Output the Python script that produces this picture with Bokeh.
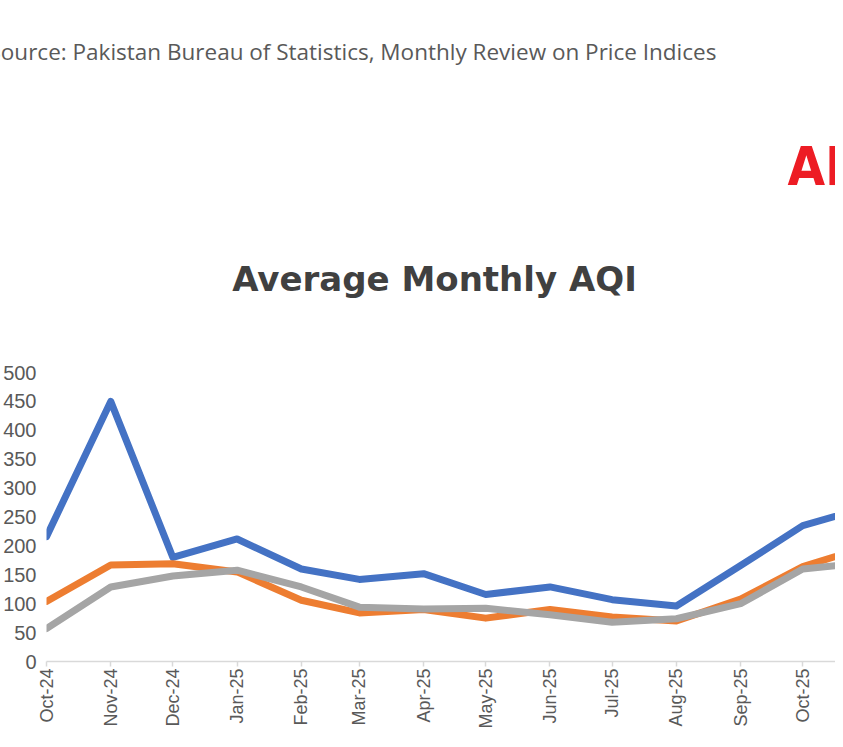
from math import pi

import pandas as pd
from bokeh.embed import file_html
from bokeh.models import (ColumnDataSource, DatetimeTickFormatter, FixedTicker,
                          Label, Range1d)
from bokeh.plotting import figure
from bokeh.resources import INLINE

# ---------------- data ----------------
months = ["2024-10-01", "2024-11-01", "2024-12-01", "2025-01-01", "2025-02-01",
          "2025-03-01", "2025-04-01", "2025-05-01", "2025-06-01", "2025-07-01",
          "2025-08-01", "2025-09-01", "2025-10-01", "2025-11-01"]
series_blue = [216, 450, 180, 212, 160, 142, 152, 116, 129, 107, 96, 166, 235, 267]
series_orange = [104, 167, 169, 155, 106, 84, 90, 75, 90, 77, 70, 108, 164, 199]
series_gray = [57, 129, 148, 158, 129, 94, 91, 92, 81, 68, 74, 100, 160, 171]
y_ticks = [0, 50, 100, 150, 200, 250, 300, 350, 400, 450, 500]

title_text = "Average Monthly AQI"
source_text = "Source: Pakistan Bureau of Statistics, Monthly Review on Price Indices"
logo_text = "AIR"

# ---------------- figure ----------------
dates = pd.to_datetime(months)
tick_ms = [int(d.value // 10**6) for d in dates]
day_ms = 86400000

p = figure(width=835, height=731, x_axis_type="datetime",
           output_backend="svg", toolbar_location=None,
           x_range=Range1d(tick_ms[0], tick_ms[0] + 380.8 * day_ms),
           y_range=Range1d(0, 1026),
           min_border_left=38, min_border_right=0,
           min_border_top=68, min_border_bottom=0)
p.outline_line_color = None
p.background_fill_color = "white"
p.border_fill_color = "white"
p.xgrid.grid_line_color = None
p.ygrid.grid_line_color = None

# source line as the figure's title (drawn outside the frame, cut at left)
p.title.text = source_text
p.title.align = "left"
p.title.offset = -58
p.title.standoff = 3
p.title.vertical_align = "bottom"
p.title.text_font = "Open Sans"
p.title.text_font_style = "normal"
p.title.text_font_size = "22.5px"
p.title.text_color = "#595959"

src = ColumnDataSource(dict(x=dates, blue=series_blue, orange=series_orange,
                            gray=series_gray))
for col, color in (("blue", "#4472C4"), ("orange", "#ED7D31"), ("gray", "#A5A5A5")):
    p.line("x", col, source=src, line_color=color, line_width=7,
           line_join="round", line_cap="round")

# x axis
xa = p.xaxis[0]
xa.ticker = FixedTicker(ticks=tick_ms)
fmt = "%b-%y"
xa.formatter = DatetimeTickFormatter(milliseconds=fmt, seconds=fmt, minsec=fmt,
                                     minutes=fmt, hourmin=fmt, hours=fmt,
                                     days=fmt, months=fmt, years=fmt)
xa.major_label_orientation = pi / 2
xa.major_label_text_font = "Liberation Sans"
xa.major_label_text_font_size = "18px"
xa.major_label_text_color = "#595959"
xa.major_label_standoff = 2
xa.axis_line_color = "#D9D9D9"
xa.axis_line_width = 1.5
xa.major_tick_line_color = "#D9D9D9"
xa.major_tick_line_width = 1.5
xa.major_tick_in = 0
xa.major_tick_out = 5
xa.minor_tick_line_color = None

# y axis
ya = p.yaxis[0]
ya.ticker = FixedTicker(ticks=y_ticks)
ya.major_label_text_font = "Liberation Sans"
ya.major_label_text_font_size = "20px"
ya.major_label_text_color = "#595959"
ya.major_label_standoff = 4
ya.axis_line_color = None
ya.major_tick_line_color = None
ya.minor_tick_line_color = None

# logo and chart title inside the (tall) frame; x in screen px from frame left
p.add_layout(Label(x=741, y=856, x_units="screen", y_units="data",
                   text=logo_text, text_font="DejaVu Sans Condensed",
                   text_font_style="bold", text_font_size="54px",
                   text_color="#ED1C24", text_baseline="alphabetic",
                   text_align="left"))
p.add_layout(Label(x=388, y=662, x_units="screen", y_units="data",
                   text=title_text, text_font="DejaVu Sans",
                   text_font_style="bold", text_font_size="34px",
                   text_color="#404040", text_baseline="alphabetic",
                   text_align="center"))

open("out.html", "w").write(file_html(p, INLINE))
